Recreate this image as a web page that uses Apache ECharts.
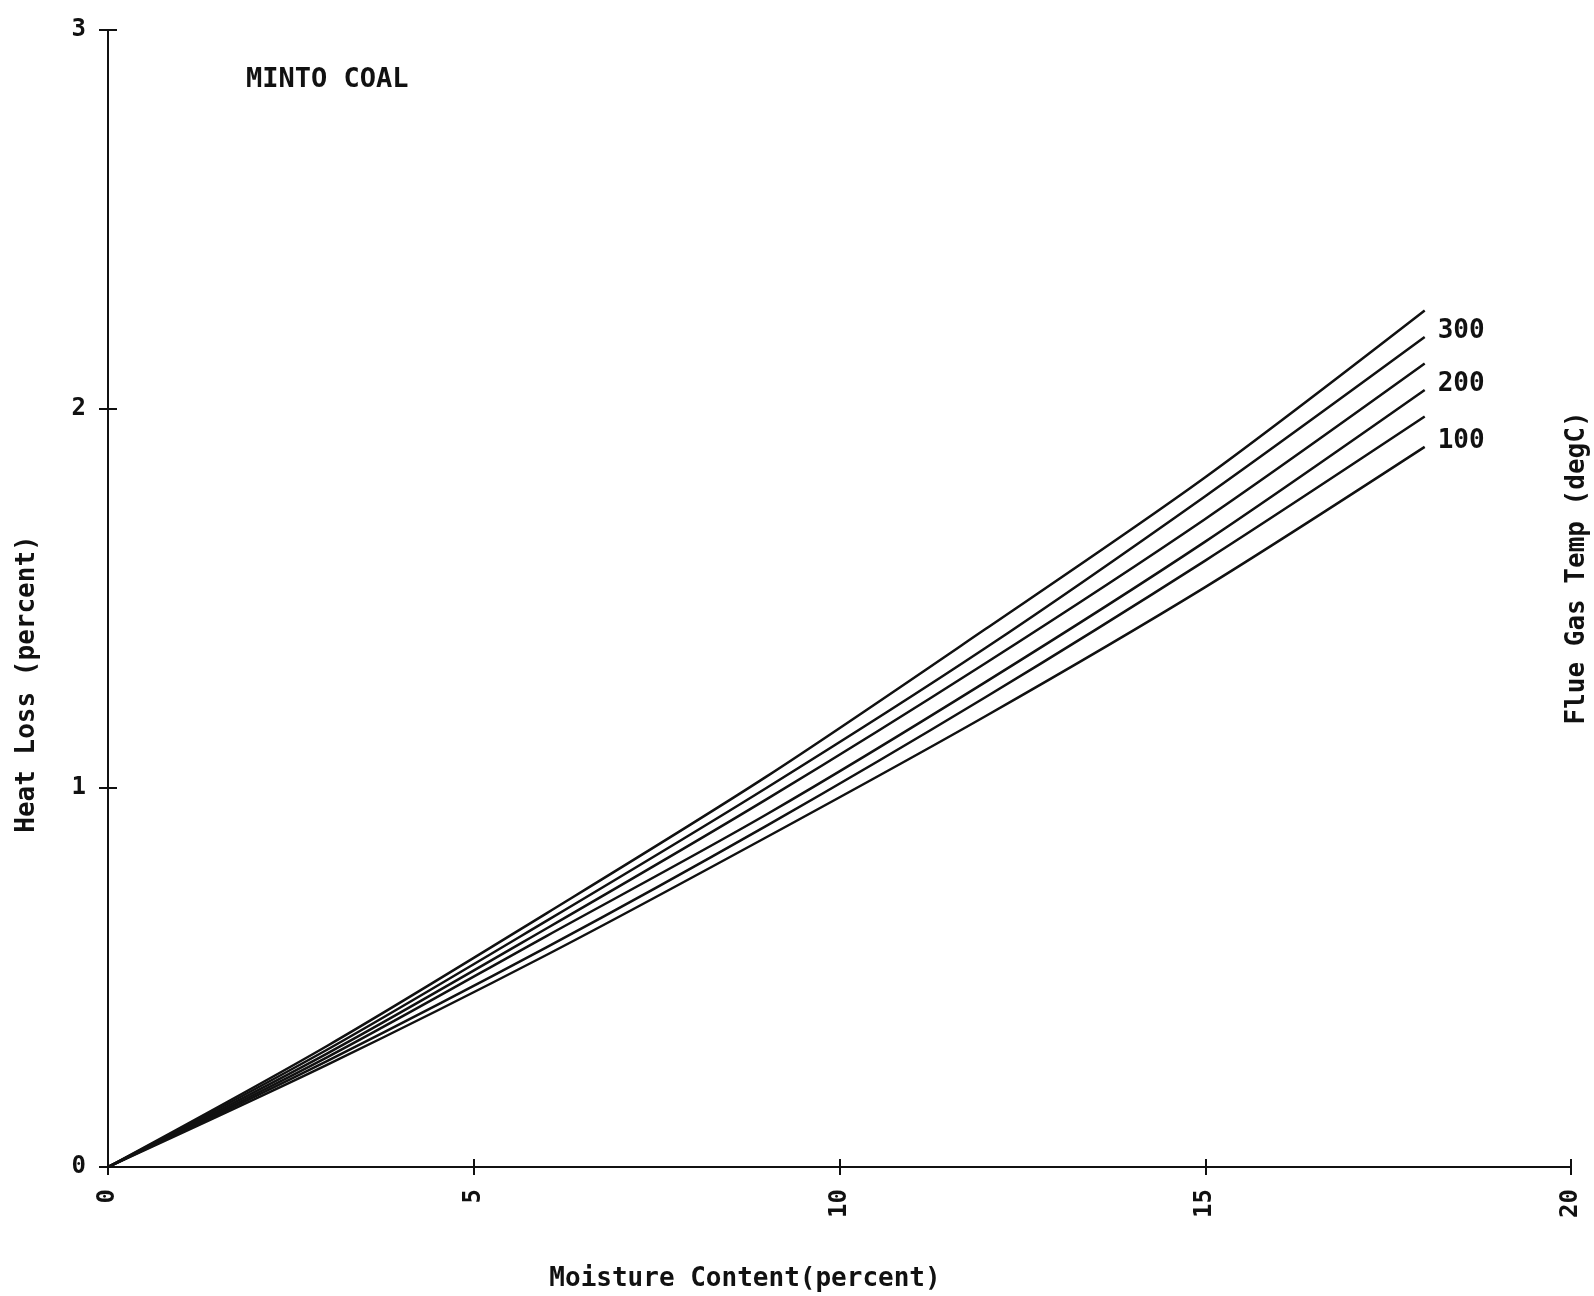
<!DOCTYPE html>
<html>
<head>
<meta charset="utf-8">
<script src="https://cdn.jsdelivr.net/npm/echarts@6/dist/echarts.min.js"></script>
<style>
  html, body { margin: 0; padding: 0; background: #fff; }
  #chart { width: 1594px; height: 1296px; }
</style>
</head>
<body>
<div id="chart"></div>
<script>
// moisture content (percent)
const moisture = [0, 3, 6, 9, 12, 15, 18]
// heat loss (percent) for each flue gas temperature curve, top to bottom
const curve1 = [0, 0.32, 0.67, 1.03, 1.42, 1.82, 2.26]
const curve2 = [0, 0.31, 0.65, 1.00, 1.37, 1.77, 2.19]
const curve3 = [0, 0.30, 0.63, 0.97, 1.33, 1.71, 2.12]
const curve4 = [0, 0.29, 0.61, 0.93, 1.28, 1.65, 2.05]
const curve5 = [0, 0.28, 0.58, 0.90, 1.24, 1.60, 1.98]
const curve6 = [0, 0.27, 0.56, 0.87, 1.19, 1.53, 1.90]
const curves = [curve1, curve2, curve3, curve4, curve5, curve6]
// labels written at the end of some curves
const curveLabels = ['', '300', '', '200', '', '100']

const FONT = 'DejaVu Sans Mono'
const INK = '#111'

const chart = echarts.init(document.getElementById('chart'))

const series = curves.map((vals, i) => ({
  type: 'line',
  smooth: 0.3,
  symbol: 'none',
  silent: true,
  data: vals.map((v, j) => [moisture[j], v]),
  lineStyle: { color: INK, width: 2.5 },
  endLabel: {
    show: curveLabels[i] !== '',
    formatter: () => curveLabels[i],
    distance: 0,
    offset: [13, -6],
    color: INK,
    fontFamily: FONT,
    fontWeight: 'bold',
    fontSize: 26
  }
}))

const tickLabel = {
  color: INK,
  fontFamily: FONT,
  fontWeight: 'bold',
  fontSize: 24
}

const option = {
  animation: false,
  backgroundColor: '#fff',
  grid: { left: 108, right: 23, top: 30, bottom: 129, containLabel: false },
  xAxis: [
    {
      type: 'value', min: 0, max: 20, interval: 5, position: 'bottom',
      axisLine: { show: true, onZero: false, lineStyle: { color: INK, width: 2 } },
      axisTick: { show: true, inside: false, length: 8, lineStyle: { color: INK, width: 2 } },
      axisLabel: Object.assign({ rotate: 90, margin: 22, padding: [0, 0, 8, 0] }, tickLabel),
      splitLine: { show: false }
    },
    {
      type: 'value', min: 0, max: 20, interval: 5, position: 'bottom',
      axisLine: { show: false, onZero: false },
      axisTick: { show: true, inside: true, length: 8, lineStyle: { color: INK, width: 2 } },
      axisLabel: { show: false },
      splitLine: { show: false }
    }
  ],
  yAxis: [
    {
      type: 'value', min: 0, max: 3, interval: 1, position: 'left',
      axisLine: { show: true, onZero: false, lineStyle: { color: INK, width: 2 } },
      axisTick: { show: true, inside: false, length: 9, lineStyle: { color: INK, width: 2 } },
      axisLabel: Object.assign({ margin: 22, padding: [0, 0, 10, 0] }, tickLabel),
      splitLine: { show: false }
    },
    {
      type: 'value', min: 0, max: 3, interval: 1, position: 'left',
      axisLine: { show: false, onZero: false },
      axisTick: { show: true, inside: true, length: 9, lineStyle: { color: INK, width: 2 } },
      axisLabel: { show: false },
      splitLine: { show: false }
    }
  ],
  series: series,
  graphic: [
    {
      type: 'text', left: 246, top: 66,
      style: { text: 'MINTO COAL', fill: INK, font: 'bold 27px "' + FONT + '"' }
    },
    {
      type: 'text', x: 27, y: 684, rotation: Math.PI / 2,
      style: { text: 'Heat Loss (percent)', fill: INK, font: 'bold 26px "' + FONT + '"', align: 'center', verticalAlign: 'middle' }
    },
    {
      type: 'text', x: 745, y: 1279,
      style: { text: 'Moisture Content(percent)', fill: INK, font: 'bold 26px "' + FONT + '"', align: 'center', verticalAlign: 'middle' }
    },
    {
      type: 'text', x: 1577, y: 568, rotation: Math.PI / 2,
      style: { text: 'Flue Gas Temp (degC)', fill: INK, font: 'bold 26px "' + FONT + '"', align: 'center', verticalAlign: 'middle' }
    }
  ]
}

chart.setOption(option)
</script>
</body>
</html>
